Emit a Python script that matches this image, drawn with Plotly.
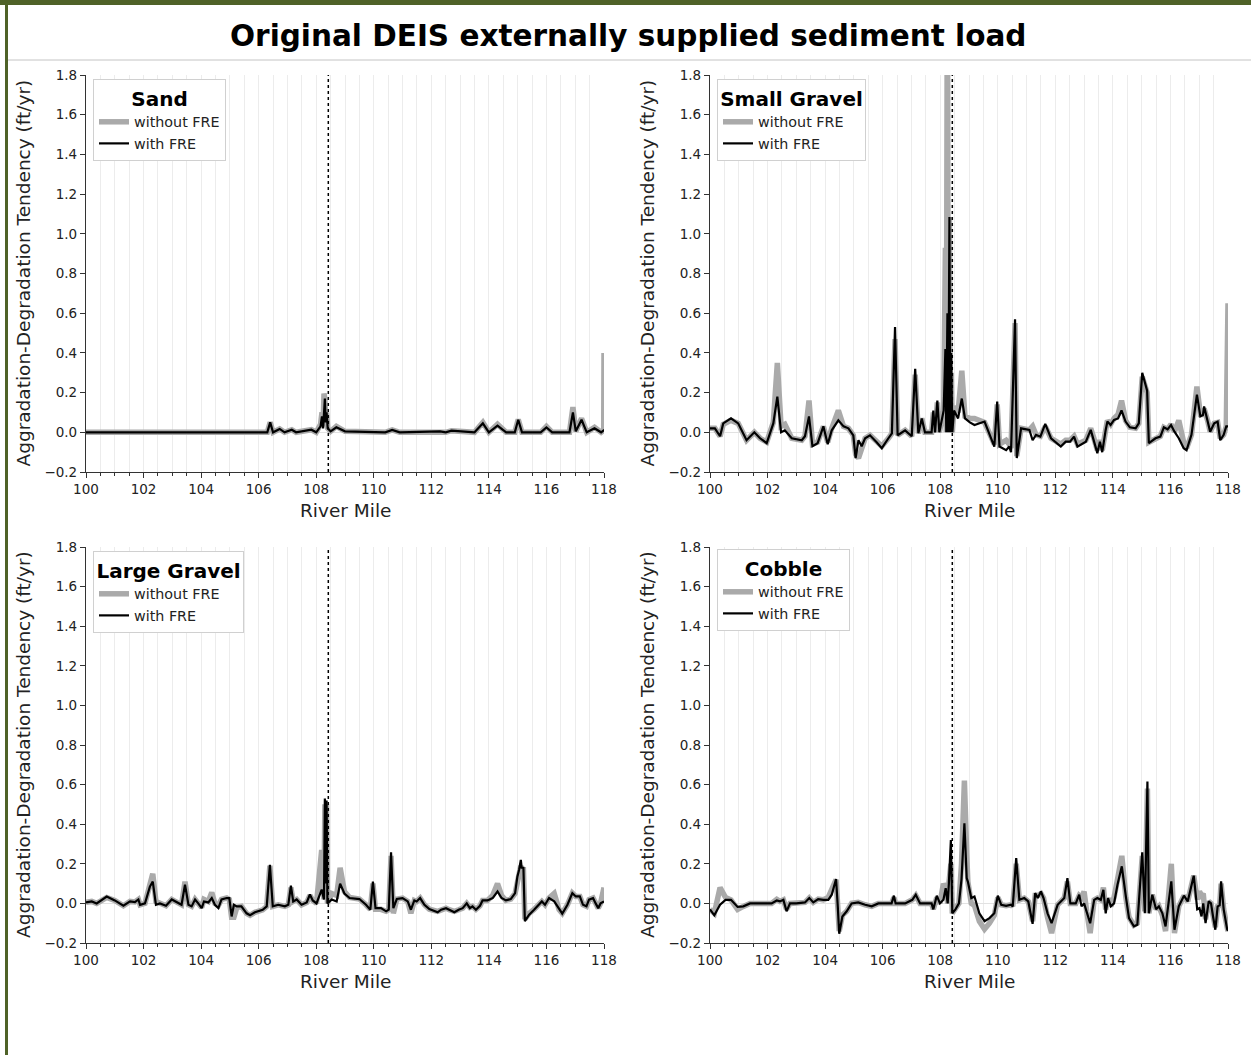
import plotly.graph_objects as go

# ---------------- data ----------------
TITLE = "Original DEIS externally supplied sediment load"
PANEL_TITLES = ["Sand", "Small Gravel", "Large Gravel", "Cobble"]
SERIES_NAMES = ["without FRE", "with FRE"]
X_LABEL = "River Mile"
Y_LABEL = "Aggradation-Degradation Tendency (ft/yr)"
FRE_MILE = 108.42
X_TICKS = [100, 102, 104, 106, 108, 110, 112, 114, 116, 118]
Y_TICKS = [-0.2, 0.0, 0.2, 0.4, 0.6, 0.8, 1.0, 1.2, 1.4, 1.6, 1.8]

SAND_X = [100.0, 102.0, 104.0, 106.0, 106.3, 106.4, 106.5, 106.73, 106.9, 107.15,
          107.3, 107.83, 108.0, 108.15, 108.2, 108.24, 108.27, 108.3, 108.33, 108.36,
          108.4, 108.5, 108.7, 109.0, 110.4, 110.64, 110.9, 112.3, 112.5, 112.7,
          113.5, 113.79, 114.0, 114.3, 114.6, 114.9, 115.02, 115.15, 115.8, 116.0,
          116.2, 116.8, 116.92, 117.02, 117.22, 117.4, 117.67, 117.9, 117.99, 118.0]
SAND_WITH = [0.0, 0.0, -0.002, 0.0, 0.0, 0.05, 0.0, 0.017, 0.0, 0.013,
             0.0, 0.013, 0.0, 0.03, 0.08, 0.02, 0.13, 0.17, 0.05, 0.1,
             0.02, 0.005, 0.025, 0.005, 0.0, 0.012, 0.0, 0.005, 0.0, 0.008,
             0.0, 0.045, 0.0, 0.034, 0.0, 0.0, 0.063, 0.0, 0.0, 0.025,
             0.0, 0.0, 0.1, 0.005, 0.063, 0.0, 0.02, 0.0, 0.01, 0.01]
SAND_WITHOUT = [0.0, 0.0, -0.002, 0.0, 0.0, 0.05, 0.0, 0.017, 0.0, 0.013,
                0.0, 0.013, 0.0, 0.04, 0.1, 0.03, 0.195, 0.17, 0.06, 0.1,
                0.02, 0.005, 0.03, 0.005, 0.0, 0.012, 0.0, 0.005, 0.0, 0.008,
                0.0, 0.05, 0.0, 0.04, 0.0, 0.0, 0.065, 0.0, 0.0, 0.03,
                0.0, 0.0, 0.127, 0.005, 0.07, 0.0, 0.025, 0.0, 0.01, 0.4]

SG_X = [100.0, 100.17, 100.35, 100.46, 100.73, 100.98, 101.27, 101.54, 101.74, 101.97,
        102.2, 102.34, 102.47, 102.6, 102.84, 103.19, 103.3, 103.44, 103.56, 103.74,
        103.94, 104.09, 104.23, 104.46, 104.64, 104.81, 104.98, 105.06, 105.16, 105.27,
        105.39, 105.56, 105.79, 105.97, 106.2, 106.32, 106.43, 106.52, 106.78, 107.01,
        107.13, 107.24, 107.36, 107.47, 107.7, 107.76, 107.82, 107.9, 107.97, 108.12,
        108.18, 108.21, 108.25, 108.28, 108.32, 108.35, 108.38, 108.42, 108.48, 108.62,
        108.75, 108.86, 109.03, 109.19, 109.54, 109.88, 109.98, 110.06, 110.29, 110.4,
        110.46, 110.6, 110.66, 110.81, 111.1, 111.21, 111.33, 111.48, 111.65, 111.85,
        112.19, 112.36, 112.51, 112.65, 112.77, 113.06, 113.23, 113.34, 113.46, 113.55,
        113.63, 113.75, 113.81, 113.92, 114.04, 114.18, 114.3, 114.44, 114.59, 114.79,
        114.9, 115.02, 115.07, 115.13, 115.19, 115.25, 115.48, 115.65, 115.77, 115.9,
        116.02, 116.14, 116.29, 116.46, 116.56, 116.73, 116.92, 117.04, 117.13, 117.17,
        117.29, 117.38, 117.52, 117.64, 117.73, 117.85, 117.94, 118.0]
SG_WITH = [0.02, 0.02, -0.02, 0.045, 0.07, 0.045, -0.04, 0.0, -0.03, -0.055,
           0.045, 0.18, 0.0, 0.01, -0.03, -0.04, -0.02, 0.08, -0.07, -0.055,
           0.03, -0.06, 0.01, 0.06, 0.03, 0.02, -0.015, -0.13, -0.04, -0.07,
           -0.03, -0.015, -0.05, -0.08, -0.03, -0.005, 0.53, -0.015, 0.01, -0.02,
           0.32, -0.005, 0.07, 0.0, 0.0, 0.11, 0.0, 0.16, 0.0, 0.11,
           0.42, 0.0, 0.6, 0.0, 1.085, 0.0, 0.4, 0.0, 0.11, 0.07,
           0.17, 0.07, 0.05, 0.037, 0.054, -0.072, 0.155, -0.072, -0.09, -0.072,
           -0.1, 0.57, -0.13, 0.02, 0.012, -0.04, -0.013, -0.022, 0.042, -0.03,
           -0.072, -0.047, -0.047, -0.022, -0.072, -0.047, 0.012, -0.04, -0.105, -0.047,
           -0.1, 0.012, 0.054, 0.037, 0.062, 0.07, 0.11, 0.054, 0.025, 0.02,
           0.045, 0.3, 0.27, 0.25, 0.21, -0.055, -0.03, -0.022, 0.025, 0.015,
           0.037, 0.003, -0.03, -0.08, -0.09, -0.013, 0.19, 0.08, 0.087, 0.13,
           0.062, 0.003, 0.045, 0.054, -0.04, -0.013, 0.03, 0.03]
SG_WITHOUT = [0.02, 0.02, -0.02, 0.04, 0.06, 0.045, -0.04, 0.0, -0.03, -0.05,
              0.05, 0.35, 0.03, 0.04, -0.03, -0.04, -0.02, 0.16, -0.06, -0.05,
              0.03, -0.05, 0.02, 0.11, 0.03, 0.02, -0.015, -0.11, -0.13, -0.07,
              -0.03, -0.015, -0.05, -0.07, -0.03, -0.005, 0.47, -0.015, 0.01, -0.02,
              0.29, -0.005, 0.07, 0.0, 0.0, 0.1, 0.0, 0.15, 0.0, 0.11,
              0.93, 0.0, 2.5, 0.0, 1.085, 0.0, 0.3, 0.0, 0.13, 0.1,
              0.31, 0.08, 0.07, 0.07, 0.05, -0.06, 0.14, -0.06, -0.04, -0.06,
              -0.08, 0.55, -0.12, 0.02, 0.012, 0.03, -0.013, -0.02, 0.03, -0.03,
              -0.06, -0.04, -0.04, -0.02, -0.06, -0.04, 0.02, -0.03, -0.09, -0.04,
              -0.09, 0.012, 0.06, 0.04, 0.07, 0.09, 0.16, 0.06, 0.025, 0.02,
              0.045, 0.28, 0.26, 0.24, 0.2, -0.05, -0.03, -0.02, 0.025, 0.015,
              0.04, 0.003, 0.06, -0.05, -0.08, -0.013, 0.23, 0.09, 0.09, 0.12,
              0.06, 0.003, 0.045, 0.05, -0.03, -0.013, 0.03, 0.65]

LG_X = [100.0, 100.2, 100.37, 100.72, 101.0, 101.3, 101.53, 101.7, 101.82, 101.88,
        102.05, 102.22, 102.32, 102.43, 102.57, 102.78, 102.98, 103.2, 103.32, 103.44,
        103.56, 103.67, 103.79, 103.9, 104.02, 104.1, 104.25, 104.37, 104.48, 104.6,
        104.71, 104.89, 104.98, 105.06, 105.14, 105.24, 105.4, 105.58, 105.7, 105.87,
        105.99, 106.14, 106.28, 106.39, 106.49, 106.68, 106.91, 107.03, 107.12, 107.2,
        107.32, 107.49, 107.67, 107.78, 107.88, 108.01, 108.19, 108.27, 108.3, 108.33,
        108.36, 108.39, 108.54, 108.71, 108.83, 108.98, 109.16, 109.5, 109.73, 109.88,
        109.97, 110.06, 110.25, 110.43, 110.52, 110.6, 110.68, 110.8, 111.0, 111.18,
        111.29, 111.41, 111.49, 111.61, 111.76, 111.93, 112.22, 112.34, 112.51, 112.62,
        112.8, 112.95, 113.09, 113.23, 113.34, 113.43, 113.55, 113.69, 113.78, 113.95,
        114.13, 114.3, 114.44, 114.59, 114.76, 114.91, 114.99, 115.05, 115.11, 115.14,
        115.2, 115.25, 115.4, 115.57, 115.72, 115.84, 115.95, 116.09, 116.27, 116.44,
        116.55, 116.73, 116.9, 117.02, 117.16, 117.27, 117.39, 117.48, 117.62, 117.71,
        117.8, 117.88, 118.0]
LG_WITH = [0.005, 0.01, 0.0, 0.035, 0.015, -0.012, 0.01, 0.007, 0.02, -0.007,
           0.0, 0.085, 0.11, -0.007, 0.0, -0.012, 0.02, 0.0, -0.007, 0.095,
           -0.007, -0.015, 0.02, 0.0, -0.024, 0.01, 0.005, 0.027, -0.007, -0.024,
           0.02, 0.027, 0.027, -0.066, -0.007, -0.015, -0.015, -0.05, -0.06, -0.045,
           -0.04, -0.032, -0.015, 0.195, -0.015, -0.007, -0.015, -0.007, 0.09, 0.01,
           0.02, -0.007, 0.005, 0.045, 0.015, 0.0, 0.07, 0.02, 0.53, 0.1,
           0.52, 0.0, 0.02, 0.01, 0.1, 0.05, 0.027, 0.022, -0.007, -0.032,
           0.11, -0.024, -0.024, -0.04, -0.032, 0.258, -0.024, 0.022, 0.027, 0.01,
           -0.032, 0.015, 0.01, 0.027, -0.007, -0.029, -0.045, -0.032, -0.024, -0.032,
           -0.045, -0.032, -0.024, 0.0, -0.024, -0.015, -0.032, -0.012, 0.015, 0.015,
           0.027, 0.06, 0.027, 0.015, 0.022, 0.052, 0.135, 0.17, 0.22, 0.18,
           0.18, -0.09, -0.057, -0.032, -0.007, 0.01, -0.007, 0.027, 0.01, -0.032,
           -0.052, -0.007, 0.052, 0.035, 0.035, -0.007, -0.015, 0.019, 0.027, 0.0,
           -0.024, 0.0, 0.01]
LG_WITHOUT = [0.005, 0.01, 0.0, 0.03, 0.015, -0.012, 0.01, 0.007, 0.02, -0.007,
              0.0, 0.1, 0.15, 0.01, 0.0, -0.012, 0.02, 0.0, -0.007, 0.11,
              -0.007, -0.015, 0.02, 0.0, -0.02, 0.02, 0.01, 0.055, 0.0, -0.01,
              0.02, 0.027, 0.02, -0.07, -0.07, -0.02, -0.015, -0.05, -0.06, -0.045,
              -0.04, -0.032, -0.015, 0.19, -0.015, -0.007, -0.015, -0.007, 0.08, 0.01,
              0.02, -0.007, 0.005, 0.04, 0.015, 0.0, 0.27, 0.02, 0.5, 0.1,
              0.5, 0.0, 0.05, 0.04, 0.18, 0.06, 0.03, 0.022, -0.007, -0.03,
              0.1, -0.03, -0.03, -0.04, -0.032, 0.24, -0.05, 0.022, 0.027, 0.01,
              -0.05, 0.015, 0.01, 0.027, -0.007, -0.029, -0.04, -0.032, -0.024, -0.032,
              -0.04, -0.032, -0.024, 0.0, -0.02, -0.015, -0.03, -0.012, 0.015, 0.015,
              0.04, 0.1, 0.04, 0.015, 0.022, 0.05, 0.12, 0.15, 0.19, 0.17,
              0.17, -0.08, -0.05, -0.03, -0.007, 0.01, -0.007, 0.027, 0.05, -0.032,
              -0.05, -0.007, 0.052, 0.035, 0.035, -0.007, -0.015, 0.019, 0.027, 0.0,
              -0.024, 0.0, 0.08]

CB_X = [100.0, 100.15, 100.35, 100.54, 100.73, 100.96, 101.16, 101.39, 101.68, 102.14,
        102.32, 102.43, 102.55, 102.66, 102.78, 103.0, 103.3, 103.45, 103.59, 103.76,
        103.94, 104.11, 104.23, 104.38, 104.44, 104.49, 104.6, 104.75, 104.92, 105.15,
        105.39, 105.62, 105.85, 106.08, 106.31, 106.39, 106.45, 106.78, 107.03, 107.15,
        107.3, 107.53, 107.7, 107.76, 107.88, 107.99, 108.11, 108.19, 108.26, 108.3,
        108.37, 108.42, 108.53, 108.65, 108.74, 108.84, 108.92, 108.96, 109.08, 109.19,
        109.36, 109.54, 109.71, 109.88, 110.0, 110.12, 110.29, 110.46, 110.52, 110.64,
        110.75, 110.92, 111.06, 111.21, 111.3, 111.39, 111.5, 111.59, 111.73, 111.87,
        112.08, 112.31, 112.42, 112.52, 112.71, 112.83, 112.91, 113.0, 113.09, 113.21,
        113.35, 113.46, 113.58, 113.67, 113.75, 113.83, 113.93, 114.04, 114.16, 114.31,
        114.45, 114.56, 114.73, 114.85, 115.02, 115.11, 115.2, 115.25, 115.37, 115.5,
        115.6, 115.72, 115.83, 116.03, 116.14, 116.29, 116.47, 116.6, 116.81, 116.93,
        117.01, 117.08, 117.14, 117.22, 117.33, 117.41, 117.48, 117.56, 117.64, 117.71,
        117.76, 117.85, 117.97, 118.0]
CB_WITH = [-0.03, -0.06, -0.007, 0.018, 0.018, -0.018, -0.015, 0.0, 0.0, 0.0,
           0.015, 0.01, 0.018, -0.04, 0.0, 0.0, 0.005, 0.027, 0.005, 0.022,
           0.018, 0.018, 0.044, 0.123, -0.015, -0.153, -0.066, -0.04, 0.0, 0.005,
           -0.007, -0.015, 0.0, 0.0, 0.0, 0.039, 0.0, 0.0, 0.018, 0.044,
           0.0, 0.0, 0.0, -0.03, 0.039, 0.0, 0.018, 0.077, 0.0, 0.1,
           0.32, -0.05, -0.03, 0.0, 0.123, 0.405, 0.128, 0.11, 0.027, 0.035,
           -0.05, -0.09, -0.074, -0.05, 0.039, -0.007, -0.012, -0.007, -0.015, 0.229,
           0.018, 0.027, 0.01, -0.103, 0.052, 0.027, 0.06, 0.027, -0.05, -0.1,
           -0.007, 0.027, 0.128, 0.0, 0.0, 0.044, -0.015, 0.0, -0.04, -0.1,
           0.018, 0.027, 0.018, 0.069, -0.05, 0.027, -0.015, 0.0, 0.094, 0.187,
           0.035, -0.074, -0.116, -0.108, 0.258, -0.05, 0.616, -0.05, 0.044, -0.03,
           -0.015, -0.05, -0.116, 0.111, -0.133, -0.015, 0.039, 0.01, 0.14, -0.03,
           -0.024, -0.066, 0.0, -0.1, 0.01, 0.0, -0.066, -0.133, -0.015, -0.01,
           0.111, -0.03, -0.13, -0.14]
CB_WITHOUT = [-0.03, -0.05, 0.08, 0.03, 0.018, -0.03, -0.015, 0.0, 0.0, 0.0,
              0.02, 0.01, 0.018, -0.03, 0.0, 0.0, 0.005, 0.027, 0.005, 0.022,
              0.018, 0.03, 0.07, 0.12, -0.015, -0.14, -0.06, -0.04, 0.0, 0.005,
              -0.007, -0.015, 0.0, 0.0, 0.0, 0.03, 0.0, 0.0, 0.018, 0.04,
              0.0, 0.0, 0.0, -0.03, 0.03, 0.0, 0.1, 0.07, 0.0, 0.1,
              0.2, -0.05, -0.03, 0.0, 0.2, 0.62, 0.25, 0.11, 0.0, -0.01,
              -0.09, -0.13, -0.1, -0.06, 0.03, -0.007, -0.012, -0.007, -0.015, 0.2,
              0.018, 0.027, 0.01, -0.09, 0.04, 0.04, 0.05, 0.027, -0.07, -0.15,
              -0.007, 0.027, 0.11, 0.0, 0.0, 0.04, 0.03, 0.06, -0.04, -0.15,
              0.018, 0.027, 0.018, 0.08, -0.03, 0.027, -0.015, 0.03, 0.12, 0.24,
              0.03, -0.07, -0.11, -0.1, 0.24, -0.04, 0.58, -0.05, 0.044, -0.03,
              -0.015, -0.06, -0.14, 0.2, -0.15, -0.015, 0.039, 0.01, 0.14, 0.02,
              0.06, 0.04, 0.05, -0.08, 0.01, 0.0, -0.06, -0.12, -0.015, -0.01,
              0.1, -0.03, -0.12, -0.14]

PANEL_DATA = [
    (SAND_X, SAND_WITHOUT, SAND_WITH),
    (SG_X, SG_WITHOUT, SG_WITH),
    (LG_X, LG_WITHOUT, LG_WITH),
    (CB_X, CB_WITHOUT, CB_WITH),
]
for xs, a, b in PANEL_DATA:
    assert len(xs) == len(a) == len(b), (len(xs), len(a), len(b))

# ---------------- layout ----------------
W, H = 1251, 1055
FONT = "DejaVu Sans"
OLIVE = "#4f6228"
GRAY = "#aaaaaa"


def px_x(p):
    return p / W


def px_y(p):
    return 1 - p / H


# plot areas in pixels: (left, right, top, bottom)
AREAS = [(86, 604, 75, 472), (710, 1228, 75, 472),
         (86, 604, 547, 943), (710, 1228, 547, 943)]
LEGEND_POS = [(93, 79), (717, 79), (93, 551), (717, 549)]

fig = go.Figure()
layout = dict(
    width=W, height=H, margin=dict(l=0, r=0, t=0, b=0),
    paper_bgcolor="white", plot_bgcolor="white", template="none",
    font=dict(family=FONT, color="#222222"), showlegend=True,
    shapes=[], annotations=[],
)

for i, ((xs, without, with_), name) in enumerate(zip(PANEL_DATA, PANEL_TITLES)):
    n = i + 1
    sfx = "" if n == 1 else str(n)
    lg = "legend" if n == 1 else f"legend{n}"
    fig.add_trace(go.Scatter(x=xs, y=without, mode="lines", name=SERIES_NAMES[0],
                             line=dict(color=GRAY, width=5.5), xaxis=f"x{sfx}", yaxis=f"y{sfx}",
                             legend=lg))
    fig.add_trace(go.Scatter(x=xs, y=with_, mode="lines", name=SERIES_NAMES[1],
                             line=dict(color="black", width=2.2), xaxis=f"x{sfx}", yaxis=f"y{sfx}",
                             legend=lg))
    l, r, t, b = AREAS[i]
    layout[f"xaxis{sfx}"] = dict(
        domain=[px_x(l), px_x(r)], range=[100, 118], anchor=f"y{sfx}",
        tickvals=X_TICKS, ticks="outside", ticklen=5, tickwidth=1, tickcolor="#333333",
        showline=True, linecolor="#333333", linewidth=1.2, zeroline=False,
        showgrid=True, gridcolor="#ececec", gridwidth=1,
        minor=dict(dtick=0.5, tick0=100, ticks="outside", ticklen=3, tickcolor="#333333",
                   showgrid=True, gridcolor="#ececec", gridwidth=1),
        tickfont=dict(size=13.5, family=FONT, color="#222222"),
    )
    layout[f"yaxis{sfx}"] = dict(
        domain=[px_y(b), px_y(t)], range=[-0.2, 1.8], anchor=f"x{sfx}",
        tickvals=Y_TICKS, tickformat=".1f", ticks="outside", ticklen=5, tickwidth=1,
        tickcolor="#333333", showline=True, linecolor="#333333", linewidth=1.2,
        showgrid=False, zeroline=True, zerolinecolor="#e2e2e2", zerolinewidth=1,
        tickfont=dict(size=13.5, family=FONT, color="#222222"),
    )
    lx, ly = LEGEND_POS[i]
    layout[lg] = dict(
        x=px_x(lx), y=px_y(ly), xanchor="left", yanchor="top",
        bgcolor="white", bordercolor="#d0d0d0", borderwidth=1,
        font=dict(size=14.3, family=FONT, color="#222222"),
        title=dict(text=f"<b>{name}</b>", side="top center",
                   font=dict(size=20, family=FONT, color="black")),
        tracegroupgap=0,
    )
    # dotted FRE line
    layout["shapes"].append(dict(type="line", xref=f"x{sfx}", yref=f"y{sfx} domain",
                                 x0=FRE_MILE, x1=FRE_MILE, y0=0, y1=1,
                                 line=dict(color="black", width=1.5, dash="dot")))
    # axis titles
    layout["annotations"].append(dict(text=X_LABEL, xref="paper", yref="paper",
                                      xanchor="center", yanchor="middle",
                                      x=px_x((l + r) / 2), y=px_y(b + 38), showarrow=False,
                                      font=dict(size=18.5, family=FONT, color="#222222")))
    layout["annotations"].append(dict(text=Y_LABEL, xref="paper", yref="paper", textangle=-90,
                                      xanchor="center", yanchor="middle",
                                      x=px_x(l - 63), y=px_y((t + b) / 2), showarrow=False,
                                      font=dict(size=18.5, family=FONT, color="#222222")))

# title and frame decoration
layout["annotations"].append(dict(text=f"<b>{TITLE}</b>", xref="paper", yref="paper",
                                  xanchor="center", yanchor="middle",
                                  x=px_x(628), y=px_y(36), showarrow=False,
                                  font=dict(size=29.5, family=FONT, color="black")))
layout["shapes"] += [
    dict(type="rect", xref="paper", yref="paper", x0=0, x1=1, y0=px_y(5), y1=1,
         fillcolor=OLIVE, line=dict(width=0), layer="above"),
    dict(type="rect", xref="paper", yref="paper", x0=px_x(5), x1=px_x(8), y0=0, y1=1,
         fillcolor=OLIVE, line=dict(width=0), layer="above"),
    dict(type="line", xref="paper", yref="paper", x0=px_x(8), x1=1, y0=px_y(60), y1=px_y(60),
         line=dict(color="#c4c4c4", width=1)),
]

fig.update_layout(**layout)
fig.write_html("out.html")
